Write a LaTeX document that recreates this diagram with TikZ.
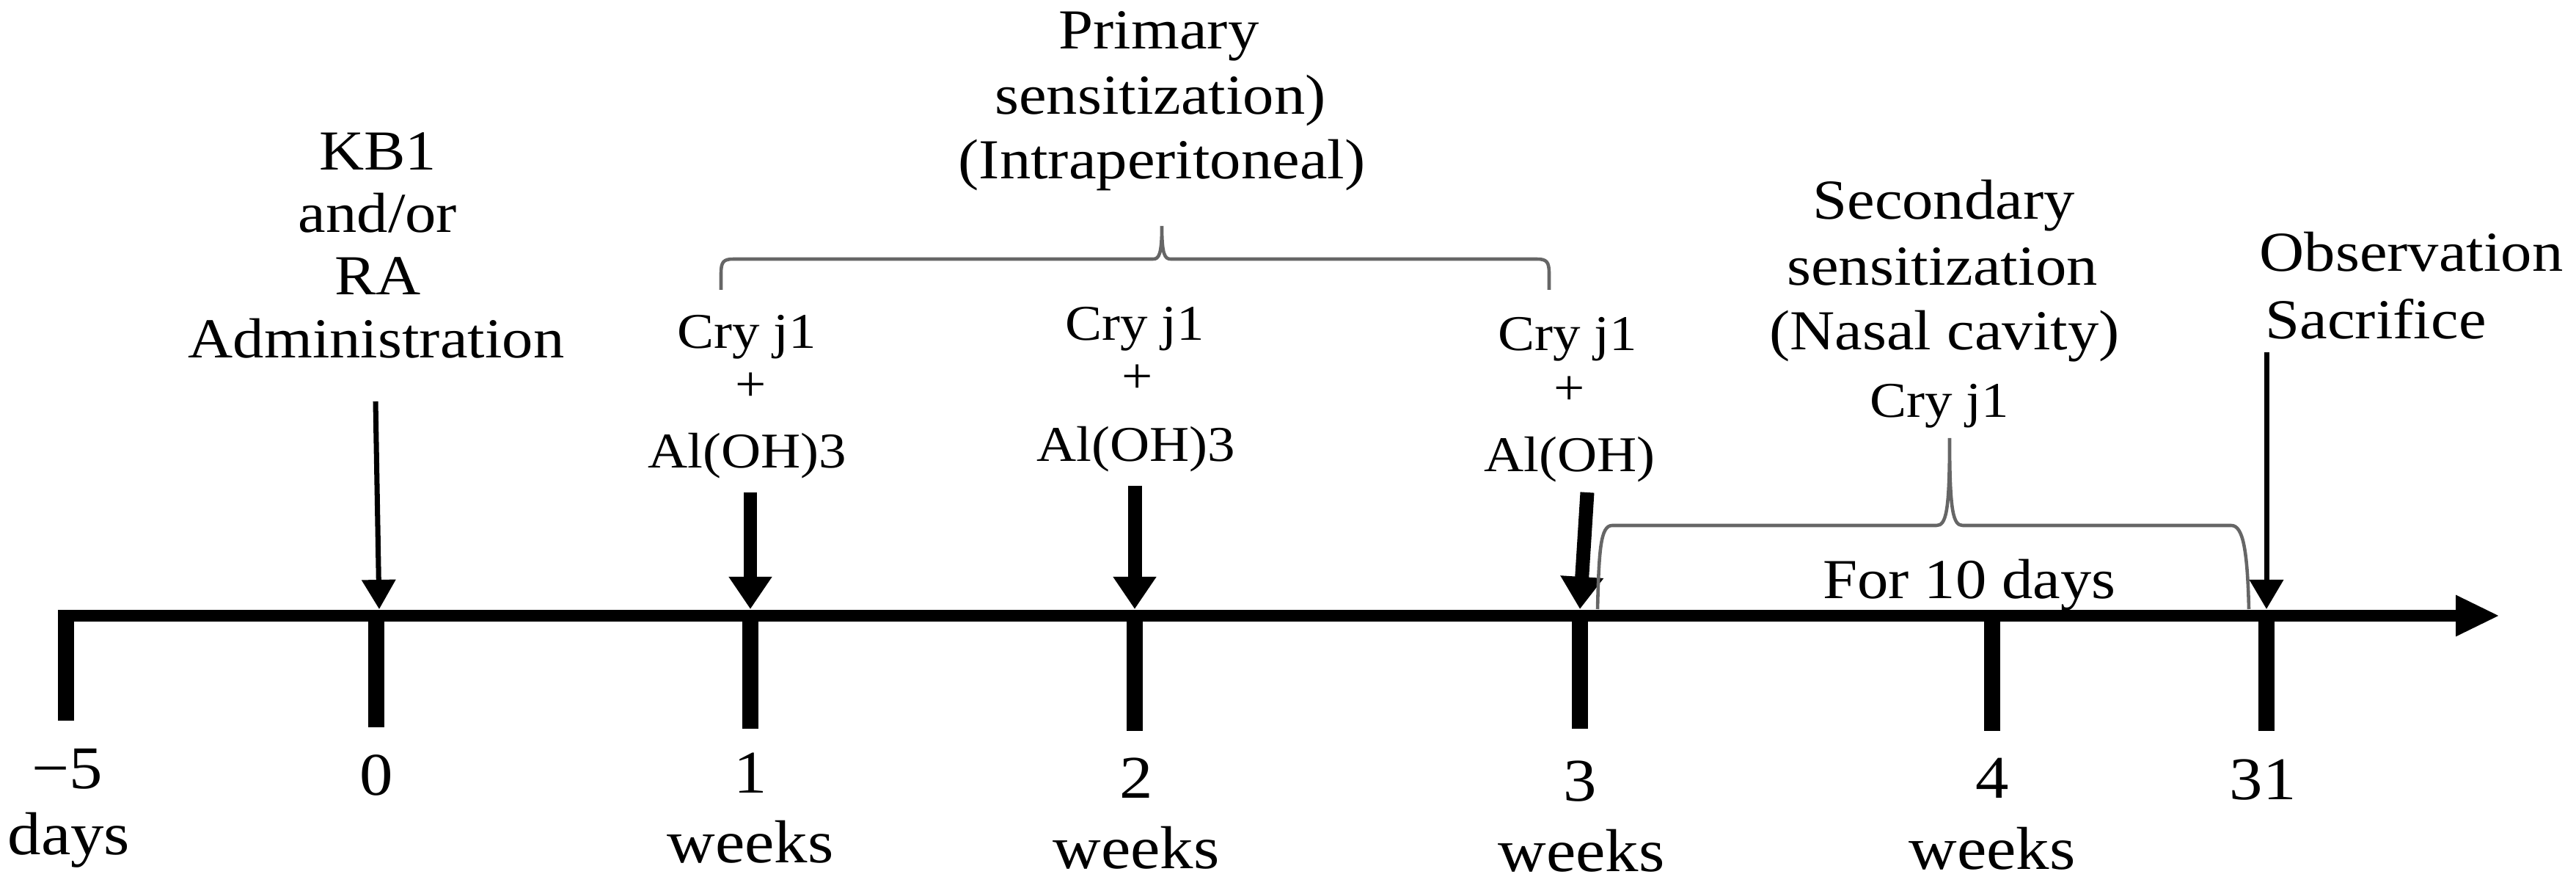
\documentclass[tikz,border=0pt]{standalone}
\usepackage{fontspec}
\setmainfont{Liberation Serif}[FakeStretch=1.1]
\usetikzlibrary{arrows.meta}
\newcommand\cryjone{Cry j1}

\begin{document}
\begin{tikzpicture}[
  lbl/.style={anchor=base, inner sep=0pt, font=\fontsize{21.9}{26}\selectfont},
  smalllbl/.style={lbl, font=\fontsize{19.4}{23}\selectfont},
  biglbl/.style={lbl, font=\fontsize{23.5}{28}\selectfont},
  axisline/.style={line width=4.8pt, -{Triangle[length=6mm,width=5.2mm]}},
  tickmark/.style={line width=6.2pt},
  thickarr/.style={line width=5.4pt, -{Triangle[length=4.4mm,width=5.6mm]}},
  thinarr/.style={line width=2pt, -{Triangle[length=4mm,width=4.5mm]}},
  bracket/.style={draw=black!60, line width=1.3pt}]
\useasboundingbox (0,0) rectangle (35.12,12.09);
\coordinate (axstart) at (0.79,3.70);
\coordinate (axend) at (34.08,3.70);
\draw[axisline] (axstart) -- (axend);
\draw[tickmark] (0.90,3.70) -- (0.90,2.27);
\draw[tickmark] (5.13,3.70) -- (5.13,2.18);
\draw[tickmark] (10.23,3.70) -- (10.23,2.16);
\draw[tickmark] (15.47,3.70) -- (15.47,2.13);
\draw[tickmark] (21.54,3.70) -- (21.54,2.16);
\draw[tickmark] (27.16,3.70) -- (27.16,2.13);
\draw[tickmark] (30.90,3.70) -- (30.90,2.13);
\node (kb) at (5.15,9.77)[lbl] {KB1};
\node (andor) at (5.15,8.92)[lbl] {and/or};
\node (ra) at (5.15,8.07)[lbl] {RA};
\node (admin) at (5.13,7.21)[lbl] {Administration};
\coordinate (a0) at (5.12,6.62);
\coordinate (t0) at (5.17,3.79);
\draw[thinarr] (a0) -- (t0);
\node (prim) at (15.80,11.42)[lbl] {Primary};
\node (sensa) at (15.82,10.53)[lbl] {sensitization)};
\node (intra) at (15.84,9.65)[lbl] {(Intraperitoneal)};
\draw[bracket] (9.83,8.14) -- (9.83,8.36) .. controls (9.83,8.52) and (9.86,8.56) .. (10.00,8.56) -- (15.72,8.56) .. controls (15.80,8.56) and (15.84,8.62) .. (15.84,9.01) .. controls (15.84,8.62) and (15.88,8.56) .. (15.96,8.56) -- (20.95,8.56) .. controls (21.09,8.56) and (21.12,8.52) .. (21.12,8.36) -- (21.12,8.14);
\node (cry1) at (10.18,7.34)[smalllbl] {\cryjone};
\node (plus1) at (10.24,6.62)[smalllbl] {+};
\node (al1) at (10.19,5.71)[smalllbl] {Al(OH)3};
\coordinate (a1) at (10.23,5.38);
\coordinate (t1) at (10.23,3.79);
\draw[thickarr] (a1) -- (t1);
\node (cry2) at (15.47,7.45)[smalllbl] {\cryjone};
\node (plus2) at (15.51,6.73)[smalllbl] {+};
\node (al2) at (15.49,5.80)[smalllbl] {Al(OH)3};
\coordinate (a2) at (15.47,5.47);
\coordinate (t2) at (15.47,3.79);
\draw[thickarr] (a2) -- (t2);
\node (cry3) at (21.37,7.31)[smalllbl] {\cryjone};
\node (plus3) at (21.40,6.57)[smalllbl] {+};
\node (al3) at (21.40,5.66)[smalllbl] {Al(OH)};
\coordinate (a3) at (21.64,5.38);
\coordinate (t3) at (21.54,3.79);
\draw[thickarr] (a3) -- (t3);
\node (sec) at (26.50,9.10)[lbl] {Secondary};
\node (sensb) at (26.48,8.20)[lbl] {sensitization};
\node (nasal) at (26.51,7.32)[lbl] {(Nasal cavity)};
\node (cry4) at (26.44,6.40)[smalllbl] {\cryjone};
\draw[bracket] (21.78,3.79) .. controls (21.80,4.60) and (21.82,4.93) .. (21.98,4.93) -- (26.40,4.93) .. controls (26.53,4.93) and (26.58,5.10) .. (26.58,6.12) .. controls (26.58,5.10) and (26.63,4.93) .. (26.76,4.93) -- (30.42,4.93) .. controls (30.58,4.93) and (30.64,4.60) .. (30.66,3.79);
\node (fordays) at (26.85,3.93)[lbl] {For 10 days};
\node (obs) at (30.80,8.39)[lbl, anchor=base west] {Observation};
\node (sac) at (30.88,7.47)[lbl, anchor=base west] {Sacrifice};
\coordinate (a31) at (30.90,7.29);
\coordinate (t31) at (30.90,3.79);
\draw[thinarr] (a31) -- (t31);
\node (nm5) at (0.92,1.35)[biglbl] {−5};
\node (days) at (0.94,0.44)[biglbl] {days};
\node (n0) at (5.13,1.26)[biglbl] {0};
\node (n1) at (10.23,1.29)[biglbl] {1};
\node (wk1) at (10.23,0.34)[biglbl] {weeks};
\node (n2) at (15.49,1.22)[biglbl] {2};
\node (wk2) at (15.49,0.26)[biglbl] {weeks};
\node (n3) at (21.54,1.18)[biglbl] {3};
\node (wk3) at (21.56,0.22)[biglbl] {weeks};
\node (n4) at (27.16,1.21)[biglbl] {4};
\node (wk4) at (27.16,0.25)[biglbl] {weeks};
\node (n31) at (30.85,1.19)[biglbl] {31};
\end{tikzpicture}
\end{document}
